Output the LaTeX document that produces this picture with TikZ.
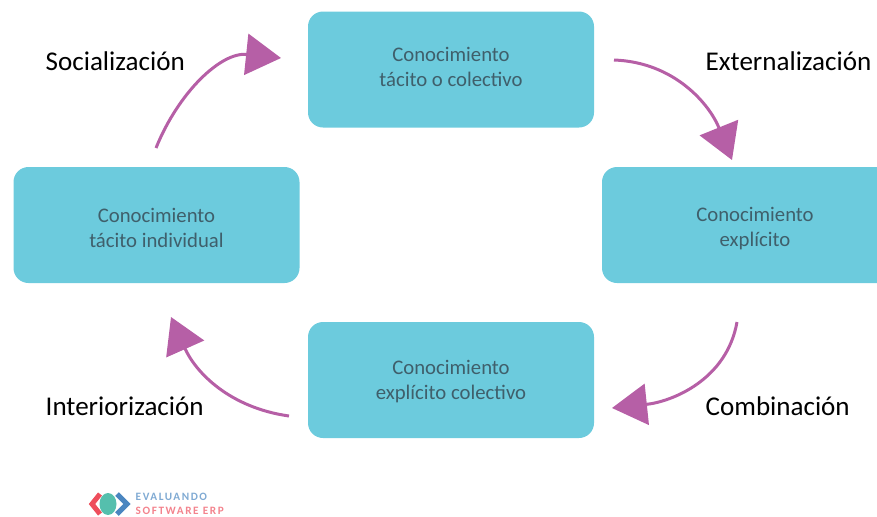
\documentclass[tikz,border=0pt]{standalone}
\usepackage{fontspec}
\setmainfont{Carlito}
\usetikzlibrary{arrows.meta}

\definecolor{box color}{HTML}{6CCBDD}
\definecolor{arrow color}{HTML}{B65FA6}
\definecolor{box text}{HTML}{3F5F6B}
\definecolor{logo red}{HTML}{EE4E5C}
\definecolor{logo blue}{HTML}{4A86C0}
\definecolor{logo teal}{HTML}{55BFAD}

\begin{document}
\begin{tikzpicture}
    % Styles
    \tikzstyle{knowledge box} = [fill=box color,rounded corners=0.15cm,minimum width=2.86cm,
        minimum height=1.16cm,inner sep=0pt]
    \tikzstyle{box label} = [align=center,text=box text,font=\fontsize{5.9}{7.1}\selectfont,inner sep=0pt]
    \tikzstyle{mode label} = [anchor=west,text=black,font=\fontsize{7.7}{9}\selectfont,inner sep=0pt]
    \tikzstyle{mode arrow} = [arrow color,line width=0.3mm,
        -{Triangle[length=3.5mm,width=4.1mm]}]
    \tikzstyle{logo text} = [anchor=west,inner sep=0pt,font=\bfseries\fontsize{3.2}{4}\selectfont]

    \useasboundingbox (0,0) rectangle (8.77,-5.16);

    %%% Boxes
    \node[knowledge box,label={[box label,yshift=0.025cm]center:{Conocimiento\\tácito o colectivo}}]
        (colectivo) at (4.51,-0.695) {};
    \node[knowledge box,label={[box label,yshift=-0.03cm]center:{Conocimiento\\tácito individual}}]
        (individual) at (1.565,-2.25) {};
    \node[knowledge box,minimum width=3.06cm,label={[box label,yshift=-0.04cm]center:{Conocimiento\\explícito}}]
        (explicito) at (7.55,-2.25) {};
    \node[knowledge box,label={[box label,yshift=-0.02cm]center:{Conocimiento\\explícito colectivo}}]
        (explicitocol) at (4.51,-3.80) {};
    %%%

    %%% Arrows
    \coordinate (soc start) at (1.56,-1.48);
    \coordinate (soc end) at (2.81,-0.58);
    \coordinate (ext start) at (6.14,-0.60);
    \coordinate (ext end) at (7.32,-1.60);
    \coordinate (com start) at (7.37,-3.22);
    \coordinate (com end) at (6.12,-4.08);
    \coordinate (int start) at (2.89,-4.16);
    \coordinate (int end) at (1.71,-3.17);

    \draw[mode arrow] (soc start) to[out=68,in=174] (soc end);
    \draw[mode arrow] (ext start) to[out=-2,in=112] (ext end);
    \draw[mode arrow] (com start) to[out=-100,in=6] (com end);
    \draw[mode arrow] (int start) to[out=172,in=-66] (int end);
    %%%

    %%% Labels
    \node[mode label] (socializacion) at (0.45,-0.61) {Socialización};
    \node[mode label] (externalizacion) at (7.05,-0.61) {Externalización};
    \node[mode label] (combinacion) at (7.05,-4.06) {Combinación};
    \node[mode label] (interiorizacion) at (0.45,-4.06) {Interiorización};
    %%%

    %%% Logo
    \draw[logo red,line width=0.5mm] (1.00,-4.94) -- (0.92,-5.04) -- (1.00,-5.14);
    \fill[logo teal] (1.08,-5.04) ellipse (0.085cm and 0.11cm);
    \draw[logo blue,line width=0.5mm] (1.17,-4.94) -- (1.27,-5.04) -- (1.17,-5.14);
    \node[logo text,text=logo blue!70] (logo top) at (1.35,-4.97) {\addfontfeature{LetterSpace=14}EVALUANDO};
    \node[logo text,text=logo red!70] (logo bottom) at (1.35,-5.11) {\addfontfeature{LetterSpace=14}SOFTWARE ERP};
    %%%
\end{tikzpicture}
\end{document}
